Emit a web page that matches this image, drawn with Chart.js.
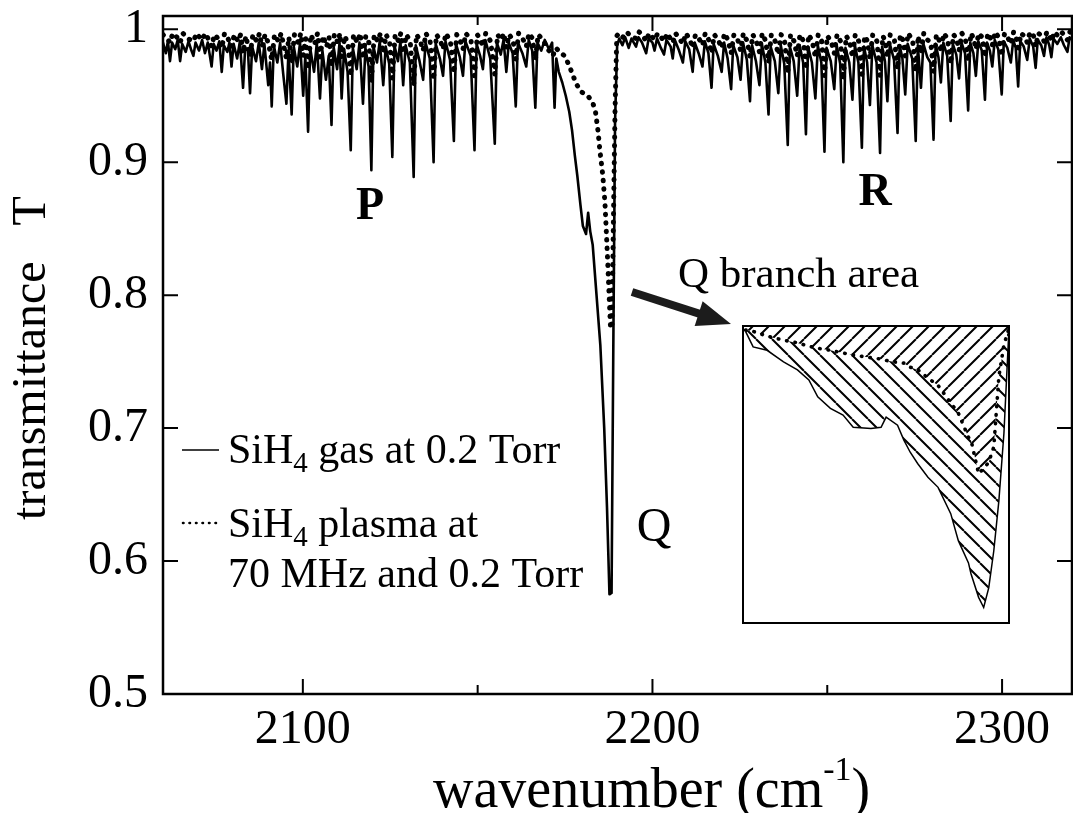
<!DOCTYPE html>
<html>
<head>
<meta charset="utf-8">
<script src="https://cdn.jsdelivr.net/npm/chart.js@4.4.1/dist/chart.umd.min.js"></script>
<style>
  body { margin: 0; background: #fff; overflow: hidden; }
  #wrap { position: relative; width: 1073px; height: 813px; }
  #inset { position: absolute; left: 740px; top: 323px; }
</style>
</head>
<body>
<div id="wrap">
  <canvas id="spectrum" width="1073" height="813"></canvas>
  <canvas id="inset" width="272" height="303"></canvas>
</div>
<script>
// axis setup
const xMin = 2060, xMax = 2320;
const yMin = 0.5, yMax = 1.01;
const xMajor = [2100, 2200, 2300];
const xMinor = [2150, 2250];
const yMajor = [0.5, 0.6, 0.7, 0.8, 0.9, 1.0];

// SiH4 gas at 0.2 Torr, [wavenumber, T]
const gasP = [
  [2060.0, 0.990], [2060.8, 0.982], [2061.4, 0.991], [2062.0, 0.976], [2062.6, 0.990], [2063.5, 0.985],
  [2064.2, 0.992], [2064.9, 0.976], [2065.5, 0.989], [2066.5, 0.983], [2067.3, 0.991], [2068.0, 0.985],
  [2068.7, 0.980], [2069.3, 0.990], [2070.3, 0.984], [2071.2, 0.992], [2072.0, 0.982], [2072.8, 0.990],
  [2073.9, 0.972], [2074.5, 0.989], [2075.3, 0.984], [2076.1, 0.991], [2076.8, 0.968], [2077.4, 0.988],
  [2078.4, 0.983], [2079.0, 0.990], [2079.6, 0.972], [2080.2, 0.989], [2081.2, 0.978], [2082.0, 0.991],
  [2082.9, 0.956], [2083.5, 0.986], [2084.3, 0.984], [2084.9, 0.952], [2085.5, 0.987], [2086.6, 0.976],
  [2087.4, 0.990], [2088.3, 0.970], [2089.0, 0.989], [2090.1, 0.958], [2090.6, 0.975], [2091.1, 0.942],
  [2091.7, 0.988], [2092.7, 0.975], [2093.5, 0.990], [2094.4, 0.966], [2095.3, 0.944], [2095.9, 0.984],
  [2096.8, 0.936], [2097.4, 0.987], [2098.4, 0.972], [2099.2, 0.990], [2100.1, 0.950], [2100.7, 0.980],
  [2101.5, 0.923], [2102.1, 0.986], [2103.2, 0.968], [2104.0, 0.990], [2104.9, 0.948], [2105.6, 0.984],
  [2106.6, 0.962], [2107.4, 0.980], [2108.2, 0.928], [2108.8, 0.987], [2109.8, 0.970], [2110.5, 0.990],
  [2111.1, 0.948], [2111.8, 0.985], [2112.8, 0.968], [2113.7, 0.909], [2114.3, 0.986], [2115.4, 0.970],
  [2116.2, 0.990], [2117.2, 0.944], [2117.9, 0.986], [2118.8, 0.972], [2119.6, 0.894], [2120.2, 0.987],
  [2121.2, 0.975], [2122.0, 0.991], [2123.0, 0.958], [2123.7, 0.987], [2124.7, 0.974], [2125.6, 0.904],
  [2126.2, 0.988], [2127.2, 0.976], [2127.9, 0.991], [2128.7, 0.958], [2129.4, 0.988], [2130.6, 0.975],
  [2131.7, 0.889], [2132.3, 0.988], [2133.3, 0.977], [2134.4, 0.962], [2135.1, 0.990], [2136.3, 0.978],
  [2137.4, 0.900], [2138.0, 0.989], [2139.2, 0.978], [2140.1, 0.965], [2140.8, 0.991], [2142.1, 0.977],
  [2143.2, 0.916], [2143.8, 0.989], [2144.9, 0.979], [2145.8, 0.965], [2146.5, 0.991], [2148.0, 0.980],
  [2149.1, 0.909], [2149.7, 0.989], [2150.7, 0.980], [2151.5, 0.970], [2152.2, 0.992], [2153.6, 0.978],
  [2154.9, 0.914], [2155.5, 0.990], [2156.6, 0.981], [2157.4, 0.992], [2158.2, 0.968], [2158.9, 0.990],
  [2160.0, 0.982], [2160.9, 0.942], [2161.5, 0.990], [2162.8, 0.982], [2163.9, 0.972], [2164.6, 0.992],
  [2165.6, 0.984], [2166.5, 0.941], [2167.1, 0.990], [2168.2, 0.984], [2169.2, 0.992], [2170.4, 0.985],
  [2171.3, 0.990], [2172.0, 0.941], [2172.5, 0.978]
];
const gasQ = [
  [2173.2, 0.968], [2174.2, 0.960], [2175.2, 0.950], [2176.2, 0.938], [2177.0, 0.924], [2177.8, 0.905],
  [2178.5, 0.890], [2179.4, 0.868], [2180.1, 0.852], [2181.0, 0.846], [2181.6, 0.862], [2182.2, 0.848],
  [2182.9, 0.838], [2184.0, 0.800], [2185.1, 0.762], [2186.2, 0.700], [2187.0, 0.640], [2187.7, 0.575],
  [2188.3, 0.576], [2188.8, 0.760], [2189.3, 0.930], [2189.9, 0.988]
];
const gasR = [
  [2190.5, 0.993], [2191.4, 0.988], [2192.2, 0.994], [2193.2, 0.986], [2194.0, 0.993], [2195.3, 0.987],
  [2196.0, 0.994], [2197.0, 0.990], [2198.2, 0.982], [2198.9, 0.993], [2200.0, 0.990], [2200.6, 0.984],
  [2201.3, 0.993], [2202.4, 0.986], [2203.3, 0.981], [2204.0, 0.992], [2205.2, 0.987], [2205.8, 0.978],
  [2206.4, 0.992], [2207.6, 0.984], [2208.7, 0.975], [2209.4, 0.991], [2210.5, 0.985], [2211.5, 0.968],
  [2212.1, 0.990], [2213.2, 0.982], [2214.3, 0.972], [2215.0, 0.991], [2216.0, 0.982], [2216.9, 0.956],
  [2217.5, 0.989], [2218.7, 0.980], [2219.8, 0.968], [2220.5, 0.990], [2221.5, 0.978], [2222.5, 0.955],
  [2223.1, 0.988], [2224.3, 0.979], [2225.2, 0.962], [2225.9, 0.990], [2227.0, 0.977], [2227.9, 0.946],
  [2228.5, 0.988], [2229.6, 0.976], [2230.6, 0.958], [2231.3, 0.989], [2232.3, 0.975], [2233.2, 0.936],
  [2233.8, 0.987], [2235.0, 0.976], [2236.0, 0.952], [2236.7, 0.988], [2237.7, 0.974], [2238.7, 0.913],
  [2239.3, 0.987], [2240.4, 0.976], [2241.4, 0.950], [2242.1, 0.988], [2243.1, 0.975], [2243.9, 0.921],
  [2244.5, 0.987], [2245.6, 0.975], [2246.6, 0.948], [2247.3, 0.988], [2248.3, 0.975], [2249.2, 0.908],
  [2249.8, 0.986], [2251.0, 0.976], [2252.0, 0.955], [2252.7, 0.988], [2253.7, 0.974], [2254.6, 0.900],
  [2255.2, 0.986], [2256.3, 0.975], [2257.2, 0.947], [2257.9, 0.988], [2258.9, 0.975], [2259.9, 0.911],
  [2260.5, 0.987], [2261.4, 0.975], [2262.2, 0.943], [2262.9, 0.988], [2264.1, 0.975], [2265.1, 0.907],
  [2265.7, 0.987], [2266.5, 0.976], [2267.2, 0.946], [2267.9, 0.989], [2269.1, 0.977], [2270.1, 0.922],
  [2270.7, 0.988], [2271.5, 0.978], [2272.3, 0.951], [2273.0, 0.989], [2274.3, 0.978], [2275.3, 0.916],
  [2275.9, 0.988], [2276.8, 0.956], [2277.5, 0.989], [2278.6, 0.979], [2279.5, 0.975], [2280.4, 0.917],
  [2281.0, 0.989], [2281.8, 0.979], [2282.5, 0.960], [2283.2, 0.990], [2284.3, 0.980], [2285.3, 0.931],
  [2285.9, 0.989], [2286.9, 0.981], [2287.7, 0.963], [2288.4, 0.990], [2289.4, 0.982], [2290.3, 0.939],
  [2290.9, 0.990], [2291.8, 0.982], [2292.5, 0.965], [2293.2, 0.991], [2294.2, 0.984], [2295.1, 0.947],
  [2295.7, 0.990], [2296.5, 0.984], [2297.2, 0.972], [2297.9, 0.992], [2298.9, 0.985], [2299.9, 0.951],
  [2300.5, 0.991], [2301.5, 0.986], [2302.5, 0.975], [2303.2, 0.992], [2303.9, 0.986], [2304.6, 0.957],
  [2305.2, 0.991], [2306.2, 0.987], [2307.2, 0.977], [2307.9, 0.993], [2308.9, 0.987], [2309.6, 0.971],
  [2310.2, 0.992], [2311.2, 0.988], [2312.0, 0.980], [2312.7, 0.994], [2313.5, 0.988], [2314.1, 0.979],
  [2314.7, 0.993], [2315.8, 0.989], [2316.8, 0.994], [2317.7, 0.988], [2318.7, 0.983], [2319.3, 0.994],
  [2320.0, 0.992]
];

// SiH4 plasma at 70 MHz and 0.2 Torr
const plasmaP = [
  [2060.0, 0.996], [2061.2, 0.993], [2062.0, 0.990], [2062.8, 0.997], [2064.0, 0.994], [2064.9, 0.990],
  [2065.7, 0.997], [2067.0, 0.993], [2068.7, 0.991], [2069.6, 0.997], [2071.0, 0.992], [2072.2, 0.997],
  [2073.9, 0.987], [2074.7, 0.996], [2075.8, 0.993], [2076.8, 0.986], [2077.6, 0.997], [2078.6, 0.993],
  [2079.6, 0.987], [2080.4, 0.996], [2081.5, 0.991], [2082.2, 0.996], [2082.9, 0.982], [2083.7, 0.995],
  [2084.9, 0.980], [2085.7, 0.996], [2086.8, 0.991], [2087.6, 0.997], [2088.3, 0.987], [2089.2, 0.996],
  [2090.2, 0.989], [2091.1, 0.977], [2091.9, 0.996], [2093.0, 0.991], [2093.8, 0.997], [2095.3, 0.978],
  [2096.0, 0.994], [2096.8, 0.975], [2097.6, 0.996], [2098.7, 0.990], [2099.4, 0.997], [2100.1, 0.980],
  [2100.8, 0.993], [2101.5, 0.970], [2102.3, 0.996], [2103.4, 0.989], [2104.2, 0.997], [2104.9, 0.979],
  [2105.8, 0.995], [2106.8, 0.987], [2107.5, 0.994], [2108.2, 0.972], [2109.0, 0.996], [2110.0, 0.990],
  [2110.6, 0.997], [2111.1, 0.979], [2112.0, 0.995], [2112.9, 0.989], [2113.7, 0.965], [2114.5, 0.996],
  [2115.6, 0.990], [2116.4, 0.997], [2117.2, 0.978], [2118.0, 0.995], [2118.9, 0.990], [2119.6, 0.960],
  [2120.4, 0.996], [2121.4, 0.991], [2122.2, 0.997], [2123.0, 0.982], [2123.8, 0.996], [2124.8, 0.991],
  [2125.6, 0.963], [2126.4, 0.996], [2127.4, 0.991], [2128.0, 0.997], [2128.7, 0.982], [2129.6, 0.996],
  [2130.7, 0.991], [2131.7, 0.958], [2132.5, 0.996], [2133.5, 0.992], [2134.4, 0.984], [2135.2, 0.997],
  [2136.4, 0.991], [2137.4, 0.962], [2138.2, 0.996], [2139.3, 0.992], [2140.1, 0.985], [2140.9, 0.997],
  [2142.2, 0.991], [2143.2, 0.967], [2144.0, 0.996], [2145.0, 0.992], [2145.8, 0.985], [2146.6, 0.997],
  [2148.1, 0.992], [2149.1, 0.965], [2149.9, 0.996], [2150.8, 0.992], [2151.5, 0.987], [2152.3, 0.997],
  [2153.7, 0.991], [2154.9, 0.966], [2155.7, 0.996], [2156.7, 0.992], [2157.5, 0.997], [2158.2, 0.986],
  [2159.0, 0.996], [2160.1, 0.992], [2160.9, 0.977], [2161.7, 0.997], [2162.9, 0.993], [2163.9, 0.987],
  [2164.7, 0.997], [2165.7, 0.993], [2166.5, 0.977], [2167.3, 0.996], [2168.0, 0.994]
];
const plasmaQ = [
  [2168.7, 0.992], [2170.1, 0.985], [2171.5, 0.980], [2172.4, 0.986], [2173.4, 0.983], [2174.9, 0.980],
  [2176.3, 0.972], [2177.3, 0.965], [2178.2, 0.959], [2179.6, 0.953], [2181.5, 0.950], [2182.9, 0.945],
  [2183.7, 0.938], [2184.4, 0.924], [2185.0, 0.908], [2185.8, 0.890], [2186.4, 0.870], [2186.8, 0.848],
  [2187.2, 0.825], [2187.6, 0.800], [2188.0, 0.776], [2188.4, 0.775], [2188.8, 0.850], [2189.3, 0.940],
  [2189.8, 0.995]
];
const plasmaR = [
  [2190.4, 0.997], [2191.5, 0.994], [2192.6, 0.998], [2193.8, 0.995], [2195.3, 0.993], [2196.2, 0.998],
  [2197.3, 0.995], [2198.2, 0.991], [2199.0, 0.997], [2200.6, 0.992], [2201.5, 0.997], [2202.5, 0.994],
  [2203.3, 0.991], [2204.2, 0.997], [2205.8, 0.990], [2206.6, 0.997], [2207.7, 0.993], [2208.7, 0.989],
  [2209.5, 0.997], [2210.6, 0.993], [2211.5, 0.986], [2212.3, 0.996], [2213.3, 0.993], [2214.3, 0.988],
  [2215.1, 0.997], [2216.1, 0.992], [2216.9, 0.982], [2217.7, 0.996], [2218.8, 0.992], [2219.8, 0.986],
  [2220.6, 0.997], [2221.6, 0.992], [2222.5, 0.982], [2223.3, 0.996], [2224.4, 0.992], [2225.2, 0.984],
  [2226.0, 0.997], [2227.1, 0.991], [2227.9, 0.979], [2228.7, 0.996], [2229.7, 0.991], [2230.6, 0.983],
  [2231.4, 0.997], [2232.4, 0.991], [2233.2, 0.975], [2234.0, 0.996], [2235.1, 0.991], [2236.0, 0.981],
  [2236.8, 0.996], [2237.8, 0.991], [2238.7, 0.967], [2239.5, 0.996], [2240.5, 0.991], [2241.4, 0.980],
  [2242.2, 0.996], [2243.2, 0.991], [2243.9, 0.970], [2244.7, 0.996], [2245.7, 0.991], [2246.6, 0.979],
  [2247.4, 0.996], [2248.4, 0.991], [2249.2, 0.965], [2250.0, 0.995], [2251.1, 0.991], [2252.0, 0.982],
  [2252.8, 0.996], [2253.8, 0.991], [2254.6, 0.962], [2255.4, 0.995], [2256.4, 0.991], [2257.2, 0.979],
  [2258.0, 0.996], [2259.0, 0.991], [2259.9, 0.966], [2260.7, 0.995], [2261.5, 0.991], [2262.2, 0.978],
  [2263.0, 0.996], [2264.2, 0.991], [2265.1, 0.965], [2265.9, 0.995], [2266.6, 0.991], [2267.2, 0.979],
  [2268.0, 0.996], [2269.2, 0.992], [2270.1, 0.970], [2270.9, 0.996], [2271.6, 0.992], [2272.3, 0.980],
  [2273.1, 0.997], [2274.4, 0.992], [2275.3, 0.968], [2276.0, 0.995], [2276.8, 0.982], [2277.6, 0.997],
  [2278.7, 0.992], [2279.6, 0.990], [2280.4, 0.968], [2281.2, 0.996], [2281.9, 0.993], [2282.5, 0.983],
  [2283.3, 0.997], [2284.4, 0.993], [2285.3, 0.974], [2286.1, 0.996], [2287.0, 0.993], [2287.7, 0.984],
  [2288.5, 0.997], [2289.5, 0.993], [2290.3, 0.976], [2291.1, 0.997], [2291.9, 0.993], [2292.5, 0.985],
  [2293.3, 0.997], [2294.3, 0.994], [2295.1, 0.979], [2295.9, 0.997], [2296.6, 0.994], [2297.2, 0.988],
  [2298.0, 0.998], [2299.0, 0.994], [2299.9, 0.980], [2300.7, 0.997], [2301.6, 0.994], [2302.5, 0.989],
  [2303.3, 0.998], [2304.0, 0.995], [2304.6, 0.983], [2305.4, 0.997], [2306.3, 0.995], [2307.2, 0.990],
  [2308.0, 0.998], [2309.0, 0.995], [2309.6, 0.987], [2310.4, 0.997], [2311.3, 0.995], [2312.0, 0.991],
  [2312.8, 0.998], [2313.6, 0.995], [2314.1, 0.991], [2314.9, 0.998], [2316.0, 0.995], [2317.0, 0.998],
  [2317.9, 0.995], [2318.7, 0.992], [2319.4, 0.998], [2320.0, 0.997]
];

// inset: Q branch close-up, shared wavenumbers for both curves
const insetWave = [
  2170.2, 2170.8, 2171.9, 2173.2, 2174.3, 2175.2, 2175.9, 2176.9, 2177.9, 2178.7,
  2180.1, 2180.9, 2181.3, 2182.2, 2182.7, 2183.2, 2183.8, 2184.6, 2185.4, 2186.4,
  2187.0, 2187.8, 2188.0, 2188.6, 2189.0, 2189.4, 2189.8, 2190.2, 2190.6, 2191.0
];
const insetGas = [
  0.992, 0.969, 0.964, 0.947, 0.935, 0.920, 0.895, 0.878, 0.868, 0.850,
  0.848, 0.850, 0.865, 0.853, 0.831, 0.813, 0.796, 0.776, 0.761, 0.722,
  0.682, 0.649, 0.633, 0.598, 0.583, 0.612, 0.667, 0.741, 0.841, 0.997
];
const insetPlasma = [
  0.994, 0.992, 0.985, 0.979, 0.975, 0.970, 0.967, 0.964, 0.960, 0.957,
  0.953, 0.951, 0.949, 0.946, 0.945, 0.939, 0.935, 0.923, 0.912, 0.886,
  0.871, 0.835, 0.831, 0.781, 0.789, 0.798, 0.821, 0.925, 0.972, 0.997
];

const serif = '"Liberation Serif", "Times New Roman", serif';

// draw a row of text pieces: [text, size, dy]
function drawRuns(ctx, x, base, runs) {
  runs.forEach(([t, size, dy]) => {
    ctx.font = size + 'px ' + serif;
    ctx.fillText(t, x, base + dy);
    x += ctx.measureText(t).width;
  });
}

function drawArrow(ctx, x0, y0, x1, y1) {
  const ang = Math.atan2(y1 - y0, x1 - x0);
  const headLen = 34, headW = 13;
  const bx = x1 - headLen * Math.cos(ang), by = y1 - headLen * Math.sin(ang);
  ctx.lineWidth = 8;
  ctx.lineCap = 'butt';
  ctx.beginPath();
  ctx.moveTo(x0, y0);
  ctx.lineTo(bx + 2 * Math.cos(ang), by + 2 * Math.sin(ang));
  ctx.stroke();
  ctx.beginPath();
  ctx.moveTo(x1, y1);
  ctx.lineTo(bx + headW * Math.sin(ang), by - headW * Math.cos(ang));
  ctx.lineTo(bx - headW * Math.sin(ang), by + headW * Math.cos(ang));
  ctx.closePath();
  ctx.fill();
}

const decorations = {
  id: 'decorations',
  afterDraw(chart) {
    const { ctx, chartArea: a, scales: { x, y } } = chart;
    ctx.save();
    ctx.strokeStyle = '#000';
    ctx.fillStyle = '#000';

    // frame
    ctx.lineWidth = 2.5;
    ctx.strokeRect(a.left, a.top, a.right - a.left, a.bottom - a.top);

    // inward ticks on all four sides
    ctx.lineWidth = 2;
    ctx.beginPath();
    xMajor.concat(xMinor).forEach(v => {
      const px = x.getPixelForValue(v);
      const len = xMajor.includes(v) ? 15 : 9;
      ctx.moveTo(px, a.bottom); ctx.lineTo(px, a.bottom - len);
      ctx.moveTo(px, a.top); ctx.lineTo(px, a.top + len);
    });
    yMajor.forEach(v => {
      const py = y.getPixelForValue(v);
      ctx.moveTo(a.left, py); ctx.lineTo(a.left + 15, py);
      ctx.moveTo(a.right, py); ctx.lineTo(a.right - 15, py);
    });
    ctx.stroke();

    // axis titles
    ctx.textAlign = 'left';
    ctx.textBaseline = 'alphabetic';
    drawRuns(ctx, 433, 807, [['wavenumber (cm', 56, 0], ['-1', 34, -27], [')', 56, 0]]);

    ctx.save();
    ctx.translate(32, 358);
    ctx.rotate(-Math.PI / 2);
    ctx.font = '48px ' + serif;
    ctx.textAlign = 'center';
    ctx.textBaseline = 'middle';
    ctx.fillText('transmittance   T', 0, 0);
    ctx.restore();

    // branch labels
    ctx.textAlign = 'center';
    ctx.textBaseline = 'middle';
    ctx.font = 'bold 46px ' + serif;
    ctx.fillText('P', 370, 207);
    ctx.fillText('R', 875, 193);
    ctx.font = '48px ' + serif;
    ctx.fillText('Q', 654, 528);

    // Q branch area pointer
    ctx.textAlign = 'left';
    ctx.textBaseline = 'alphabetic';
    ctx.font = '43px ' + serif;
    ctx.fillText('Q branch area', 678, 287);
    ctx.fillStyle = '#1c1c1c';
    ctx.strokeStyle = '#1c1c1c';
    drawArrow(ctx, 632, 292, 731, 324);

    // legend
    ctx.fillStyle = '#000';
    ctx.strokeStyle = '#000';
    ctx.lineWidth = 1.3;
    ctx.beginPath(); ctx.moveTo(182, 450); ctx.lineTo(219, 450); ctx.stroke();
    ctx.lineWidth = 2.6;
    ctx.lineCap = 'round';
    ctx.setLineDash([0.5, 6]);
    ctx.beginPath(); ctx.moveTo(183, 523); ctx.lineTo(219, 523); ctx.stroke();
    ctx.setLineDash([]);
    drawRuns(ctx, 228, 463, [['SiH', 42, 0], ['4', 29, 9], [' gas at 0.2 Torr', 42, 0]]);
    drawRuns(ctx, 228, 537, [['SiH', 42, 0], ['4', 29, 9], [' plasma at', 42, 0]]);
    drawRuns(ctx, 228, 587, [['70 MHz and 0.2 Torr', 42, 0]]);
    ctx.restore();
  }
};

new Chart(document.getElementById('spectrum'), {
  type: 'line',
  data: {
    datasets: [
      {
        label: 'SiH4 plasma at 70 MHz and 0.2 Torr',
        data: plasmaP.concat(plasmaQ, plasmaR),
        borderColor: '#000',
        borderWidth: 5,
        borderDash: [0.5, 8],
        borderCapStyle: 'round',
        borderJoinStyle: 'round',
        pointRadius: 0,
        fill: false
      },
      {
        label: 'SiH4 gas at 0.2 Torr',
        data: gasP.concat(gasQ, gasR),
        borderColor: '#000',
        borderWidth: 2.6,
        borderJoinStyle: 'round',
        pointRadius: 0,
        fill: false
      }
    ]
  },
  options: {
    responsive: false,
    animation: false,
    devicePixelRatio: 1,
    layout: { autoPadding: false, padding: { left: 0, right: 1, top: 16, bottom: 0 } },
    plugins: { legend: { display: false }, tooltip: { enabled: false } },
    scales: {
      x: {
        type: 'linear',
        min: xMin,
        max: xMax,
        grid: { display: false, drawTicks: false },
        border: { display: false },
        afterBuildTicks: s => { s.ticks = xMajor.map(v => ({ value: v })); },
        afterFit: s => { s.height = 119; s.paddingLeft = 0; s.paddingRight = 0; },
        ticks: {
          autoSkip: false,
          maxRotation: 0,
          padding: 8,
          color: '#000',
          font: { family: serif, size: 48 },
          callback: v => String(v)
        }
      },
      y: {
        min: yMin,
        max: yMax,
        grid: { display: false, drawTicks: false },
        border: { display: false },
        afterBuildTicks: s => { s.ticks = yMajor.map(v => ({ value: v })); },
        afterFit: s => { s.width = 163; s.paddingTop = 0; s.paddingBottom = 0; },
        ticks: {
          autoSkip: false,
          padding: 15,
          color: '#000',
          font: { family: serif, size: 48 },
          callback: v => (v === 1 ? '1' : v.toFixed(1))
        }
      }
    }
  },
  plugins: [decorations]
});

// hatch fill for the inset areas
function hatch(ctx, rising) {
  const s = 16;
  const c = document.createElement('canvas');
  c.width = s; c.height = s;
  const g = c.getContext('2d');
  g.strokeStyle = '#000';
  g.lineWidth = 2;
  g.beginPath();
  for (let k = -1; k <= 1; k++) {
    if (rising) { g.moveTo(k * s, s); g.lineTo(k * s + s, 0); }
    else { g.moveTo(k * s, 0); g.lineTo(k * s + s, s); }
  }
  g.stroke();
  return ctx.createPattern(c, 'repeat');
}

const insetCanvas = document.getElementById('inset');
const insetCtx = insetCanvas.getContext('2d');

const insetBox = {
  id: 'insetBox',
  afterDraw(chart) {
    const { ctx, chartArea: a } = chart;
    ctx.save();
    ctx.strokeStyle = '#000';
    ctx.lineWidth = 2;
    ctx.strokeRect(a.left, a.top, a.right - a.left, a.bottom - a.top);
    ctx.restore();
  }
};

new Chart(insetCanvas, {
  type: 'line',
  data: {
    datasets: [
      {
        label: 'plasma',
        data: insetWave.map((w, i) => [w, insetPlasma[i]]),
        borderColor: '#000',
        borderWidth: 3.6,
        borderDash: [0.5, 8],
        borderCapStyle: 'round',
        pointRadius: 0,
        fill: { value: 1.0 },
        backgroundColor: hatch(insetCtx, true)
      },
      {
        label: 'gas',
        data: insetWave.map((w, i) => [w, insetGas[i]]),
        borderColor: '#000',
        borderWidth: 1.5,
        pointRadius: 0,
        fill: 0,
        backgroundColor: hatch(insetCtx, false)
      }
    ]
  },
  options: {
    responsive: false,
    animation: false,
    devicePixelRatio: 1,
    layout: { autoPadding: false, padding: 3 },
    plugins: { legend: { display: false }, tooltip: { enabled: false } },
    scales: {
      x: { type: 'linear', display: false, min: 2170, max: 2191 },
      y: { display: false, min: 0.56, max: 1.0 }
    }
  },
  plugins: [insetBox]
});
</script>
</body>
</html>
